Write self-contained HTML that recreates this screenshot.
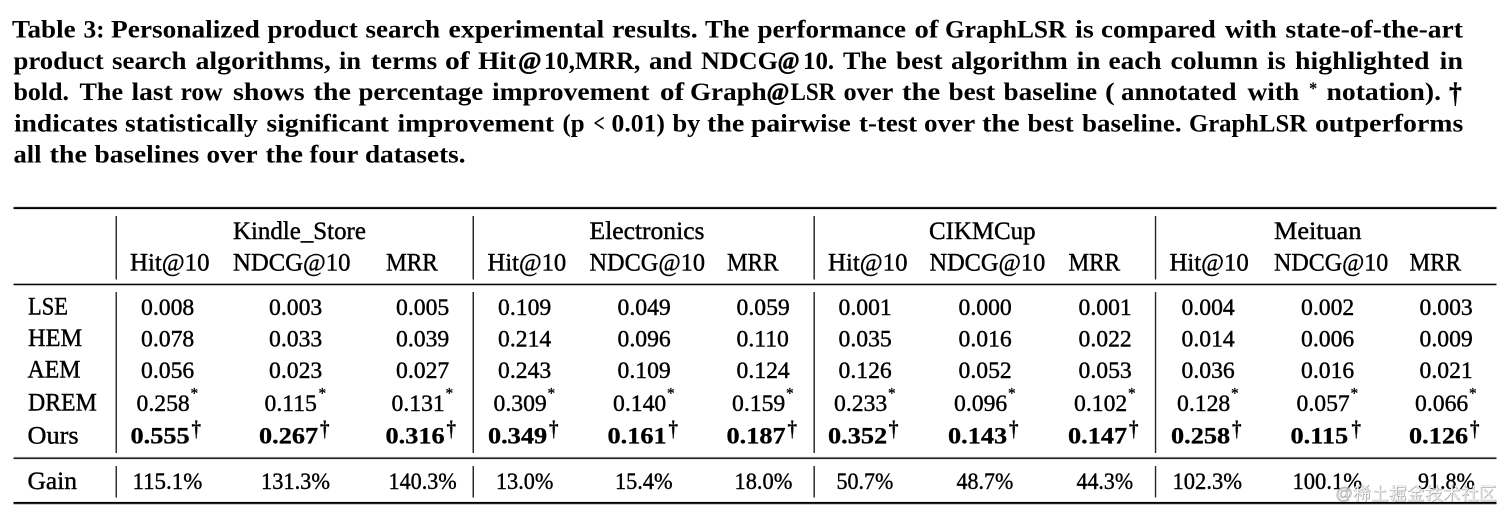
<!DOCTYPE html>
<html lang="en"><head><meta charset="utf-8"><title>Table 3</title>
<style>
html,body{margin:0;padding:0;background:#fff}
body{width:1512px;height:520px;position:relative;overflow:hidden}
#z{position:absolute;left:0;top:0;width:3024px;height:1040px;transform-origin:0 0;transform:scale(.5);will-change:transform;font-family:"Liberation Serif",serif;color:#000}
.w{position:absolute;white-space:pre;line-height:1;transform-origin:0 0}
.b{font-weight:bold}
.r{position:absolute}
</style></head><body><div id="z">
<div class="r" style="left:27px;top:412px;width:2966px;height:2px;background:#e4e4e4"></div><div class="r" style="left:27px;top:414px;width:2966px;height:2px;background:#1c1c1c"></div><div class="r" style="left:27px;top:416px;width:2966px;height:2px;background:#000"></div><div class="r" style="left:27px;top:418px;width:2966px;height:2px;background:#e6e6e6"></div><div class="r" style="left:27px;top:566px;width:2966px;height:2px;background:#b0b0b0"></div><div class="r" style="left:27px;top:568px;width:2966px;height:2px;background:#060606"></div><div class="r" style="left:27px;top:570px;width:2966px;height:2px;background:#c0c0c0"></div><div class="r" style="left:27px;top:912px;width:2966px;height:2px;background:#f4f4f4"></div><div class="r" style="left:27px;top:914px;width:2966px;height:2px;background:#777"></div><div class="r" style="left:27px;top:916px;width:2966px;height:2px;background:#222"></div><div class="r" style="left:27px;top:918px;width:2966px;height:2px;background:#e8e8e8"></div><div class="r" style="left:27px;top:1002px;width:2966px;height:2px;background:#eee"></div><div class="r" style="left:27px;top:1004px;width:2966px;height:2px;background:#000"></div><div class="r" style="left:27px;top:1006px;width:2966px;height:2px;background:#222"></div><div class="r" style="left:27px;top:1008px;width:2966px;height:2px;background:#ccc"></div><div class="r" style="left:230px;top:432px;width:2px;height:126.8px;background:#999"></div><div class="r" style="left:230px;top:584px;width:2px;height:322px;background:#999"></div><div class="r" style="left:230px;top:932px;width:2px;height:63.2px;background:#999"></div><div class="r" style="left:232px;top:432px;width:2px;height:126.8px;background:#333"></div><div class="r" style="left:232px;top:584px;width:2px;height:322px;background:#333"></div><div class="r" style="left:232px;top:932px;width:2px;height:63.2px;background:#333"></div><div class="r" style="left:944px;top:432px;width:2px;height:126.8px;background:#999"></div><div class="r" style="left:944px;top:584px;width:2px;height:322px;background:#999"></div><div class="r" style="left:944px;top:932px;width:2px;height:63.2px;background:#999"></div><div class="r" style="left:946px;top:432px;width:2px;height:126.8px;background:#282828"></div><div class="r" style="left:946px;top:584px;width:2px;height:322px;background:#282828"></div><div class="r" style="left:946px;top:932px;width:2px;height:63.2px;background:#282828"></div><div class="r" style="left:1626px;top:432px;width:2px;height:126.8px;background:#888"></div><div class="r" style="left:1626px;top:584px;width:2px;height:322px;background:#888"></div><div class="r" style="left:1626px;top:932px;width:2px;height:63.2px;background:#888"></div><div class="r" style="left:1628px;top:432px;width:2px;height:126.8px;background:#3a3a3a"></div><div class="r" style="left:1628px;top:584px;width:2px;height:322px;background:#3a3a3a"></div><div class="r" style="left:1628px;top:932px;width:2px;height:63.2px;background:#3a3a3a"></div><div class="r" style="left:2308px;top:432px;width:2px;height:126.8px;background:#ddd"></div><div class="r" style="left:2308px;top:584px;width:2px;height:322px;background:#ddd"></div><div class="r" style="left:2308px;top:932px;width:2px;height:63.2px;background:#ddd"></div><div class="r" style="left:2310px;top:432px;width:2px;height:126.8px;background:#262626"></div><div class="r" style="left:2310px;top:584px;width:2px;height:322px;background:#262626"></div><div class="r" style="left:2310px;top:932px;width:2px;height:63.2px;background:#262626"></div><div class="r" style="left:2312px;top:432px;width:2px;height:126.8px;background:#ccc"></div><div class="r" style="left:2312px;top:584px;width:2px;height:322px;background:#ccc"></div><div class="r" style="left:2312px;top:932px;width:2px;height:63.2px;background:#ccc"></div>
<span class="w b" style="left:24.4px;top:33.2px;font-size:50px;transform:scaleX(1.0811)">Table</span><span class="w b" style="left:167.4px;top:33.2px;font-size:50px;transform:scaleX(1.0132)">3:</span><span class="w b" style="left:221.7px;top:33.2px;font-size:50px;transform:scaleX(1.0937)">Personalized</span><span class="w b" style="left:535.1px;top:33.2px;font-size:50px;transform:scaleX(1.0716)">product</span><span class="w b" style="left:731.1px;top:33.2px;font-size:50px;transform:scaleX(1.0816)">search</span><span class="w b" style="left:897.1px;top:33.2px;font-size:50px;transform:scaleX(1.1105)">experimental</span><span class="w b" style="left:1223.5px;top:33.2px;font-size:50px;transform:scaleX(1.1194)">results.</span><span class="w b" style="left:1410.2px;top:33.2px;font-size:50px;transform:scaleX(1.0630)">The</span><span class="w b" style="left:1515.3px;top:33.2px;font-size:50px;transform:scaleX(1.0806)">performance</span><span class="w b" style="left:1829.2px;top:33.2px;font-size:50px;transform:scaleX(1.1460)">of</span><span class="w b" style="left:1890px;top:33.2px;font-size:50px;transform:scaleX(1.0156)">GraphLSR</span><span class="w b" style="left:2149.7px;top:33.2px;font-size:50px;transform:scaleX(1.1272)">is</span><span class="w b" style="left:2202.1px;top:33.2px;font-size:50px;transform:scaleX(1.0771)">compared</span><span class="w b" style="left:2449.8px;top:33.2px;font-size:50px;transform:scaleX(1.0949)">with</span><span class="w b" style="left:2570.8px;top:33.2px;font-size:50px;transform:scaleX(1.1019)">state-of-the-art</span><span class="w b" style="left:27.3px;top:95.8px;font-size:50px;transform:scaleX(1.0698)">product</span><span class="w b" style="left:224.3px;top:95.8px;font-size:50px;transform:scaleX(1.0794)">search</span><span class="w b" style="left:390.7px;top:95.8px;font-size:50px;transform:scaleX(1.1134)">algorithms,</span><span class="w b" style="left:677.8px;top:95.8px;font-size:50px;transform:scaleX(1.0529)">in</span><span class="w b" style="left:741.6px;top:95.8px;font-size:50px;transform:scaleX(1.0826)">terms</span><span class="w b" style="left:890.1px;top:95.8px;font-size:50px;transform:scaleX(1.1833)">of</span><span class="w b" style="left:955.7px;top:95.8px;font-size:50px;transform:scaleX(1.0976)">Hit</span><span class="w b" style="left:1035.5px;top:95.8px;font-size:50px;transform:scaleX(1.0134);-webkit-text-stroke:1px #000">@</span><span class="w b" style="left:1088.4px;top:95.8px;font-size:50px;transform:scaleX(0.9908)">10,MRR,</span><span class="w b" style="left:1298.2px;top:95.8px;font-size:50px;transform:scaleX(1.0721)">and</span><span class="w b" style="left:1401.6px;top:95.8px;font-size:50px;transform:scaleX(1.0445)">NDCG</span><span class="w b" style="left:1555.4px;top:95.8px;font-size:50px;transform:scaleX(0.9565);-webkit-text-stroke:1px #000">@</span><span class="w b" style="left:1605.8px;top:95.8px;font-size:50px;transform:scaleX(0.9956)">10.</span><span class="w b" style="left:1686.2px;top:95.8px;font-size:50px;transform:scaleX(1.0507)">The</span><span class="w b" style="left:1791.8px;top:95.8px;font-size:50px;transform:scaleX(1.0847)">best</span><span class="w b" style="left:1902.2px;top:95.8px;font-size:50px;transform:scaleX(1.1071)">algorithm</span><span class="w b" style="left:2152.7px;top:95.8px;font-size:50px;transform:scaleX(1.1532)">in</span><span class="w b" style="left:2217.1px;top:95.8px;font-size:50px;transform:scaleX(1.0915)">each</span><span class="w b" style="left:2340.6px;top:95.8px;font-size:50px;transform:scaleX(1.1072)">column</span><span class="w b" style="left:2533.7px;top:95.8px;font-size:50px;transform:scaleX(1.1272)">is</span><span class="w b" style="left:2589.6px;top:95.8px;font-size:50px;transform:scaleX(1.1126)">highlighted</span><span class="w b" style="left:2879.2px;top:95.8px;font-size:50px;transform:scaleX(1.1281)">in</span><span class="w b" style="left:27.3px;top:158.2px;font-size:50px;transform:scaleX(1.0376)">bold.</span><span class="w b" style="left:159.2px;top:158.2px;font-size:50px;transform:scaleX(1.0445)">The</span><span class="w b" style="left:262.9px;top:158.2px;font-size:50px;transform:scaleX(1.0995)">last</span><span class="w b" style="left:361.1px;top:158.2px;font-size:50px;transform:scaleX(1.0231)">row</span><span class="w b" style="left:465.7px;top:158.2px;font-size:50px;transform:scaleX(1.1215)">shows</span><span class="w b" style="left:626.6px;top:158.2px;font-size:50px;transform:scaleX(1.1225)">the</span><span class="w b" style="left:716.8px;top:158.2px;font-size:50px;transform:scaleX(1.0737)">percentage</span><span class="w b" style="left:983.8px;top:158.2px;font-size:50px;transform:scaleX(1.1046)">improvement</span><span class="w b" style="left:1320.2px;top:158.2px;font-size:50px;transform:scaleX(1.1584)">of</span><span class="w b" style="left:1379.9px;top:158.2px;font-size:50px;transform:scaleX(1.0829)">Graph</span><span class="w b" style="left:1532.9px;top:158.2px;font-size:50px;transform:scaleX(0.9850);-webkit-text-stroke:1px #000">@</span><span class="w b" style="left:1580.6px;top:158.2px;font-size:50px;transform:scaleX(0.9224)">LSR</span><span class="w b" style="left:1686.5px;top:158.2px;font-size:50px;transform:scaleX(1.0550)">over</span><span class="w b" style="left:1804.1px;top:158.2px;font-size:50px;transform:scaleX(1.1457)">the</span><span class="w b" style="left:1896.8px;top:158.2px;font-size:50px;transform:scaleX(1.0847)">best</span><span class="w b" style="left:2006.8px;top:158.2px;font-size:50px;transform:scaleX(1.0867)">baseline</span><span class="w b" style="left:2209.9px;top:158.2px;font-size:50px;transform:scaleX(1.1755)">(</span><span class="w b" style="left:2242.2px;top:158.2px;font-size:50px;transform:scaleX(1.0798)">annotated</span><span class="w b" style="left:2494.8px;top:158.2px;font-size:50px;transform:scaleX(1.0949)">with</span><span class="w b" style="left:2652.5px;top:158.2px;font-size:50px;transform:scaleX(1.1064)">notation).</span><span class="w b" style="left:27.8px;top:220.6px;font-size:50px;transform:scaleX(1.0990)">indicates</span><span class="w b" style="left:249.8px;top:220.6px;font-size:50px;transform:scaleX(1.0993)">statistically</span><span class="w b" style="left:533.3px;top:220.6px;font-size:50px;transform:scaleX(1.1005)">significant</span><span class="w b" style="left:794.8px;top:220.6px;font-size:50px;transform:scaleX(1.0976)">improvement</span><span class="w b" style="left:1125.3px;top:220.6px;font-size:50px;transform:scaleX(0.9936)">(p</span><span class="w b" style="left:1187px;top:220.6px;font-size:50px;transform:scaleX(0.7966)">&lt;</span><span class="w b" style="left:1222.9px;top:220.6px;font-size:50px;transform:scaleX(1.0260)">0.01)</span><span class="w b" style="left:1344.9px;top:220.6px;font-size:50px;transform:scaleX(1.0539)">by</span><span class="w b" style="left:1413.5px;top:220.6px;font-size:50px;transform:scaleX(1.1209)">the</span><span class="w b" style="left:1502.1px;top:220.6px;font-size:50px;transform:scaleX(1.1047)">pairwise</span><span class="w b" style="left:1718.1px;top:220.6px;font-size:50px;transform:scaleX(1.0737)">t-test</span><span class="w b" style="left:1847.8px;top:220.6px;font-size:50px;transform:scaleX(1.0835)">over</span><span class="w b" style="left:1964.1px;top:220.6px;font-size:50px;transform:scaleX(1.1302)">the</span><span class="w b" style="left:2055.3px;top:220.6px;font-size:50px;transform:scaleX(1.0730)">best</span><span class="w b" style="left:2164.3px;top:220.6px;font-size:50px;transform:scaleX(1.0779)">baseline.</span><span class="w b" style="left:2377.5px;top:220.6px;font-size:50px;transform:scaleX(0.9881)">GraphLSR</span><span class="w b" style="left:2630.3px;top:220.6px;font-size:50px;transform:scaleX(1.1124)">outperforms</span><span class="w b" style="left:27.3px;top:283px;font-size:50px;transform:scaleX(1.0625)">all</span><span class="w b" style="left:99.1px;top:283px;font-size:50px;transform:scaleX(1.1225)">the</span><span class="w b" style="left:189.3px;top:283px;font-size:50px;transform:scaleX(1.0935)">baselines</span><span class="w b" style="left:412.8px;top:283px;font-size:50px;transform:scaleX(1.0835)">over</span><span class="w b" style="left:530.6px;top:283px;font-size:50px;transform:scaleX(1.1225)">the</span><span class="w b" style="left:618.6px;top:283px;font-size:50px;transform:scaleX(1.0638)">four</span><span class="w b" style="left:730.3px;top:283px;font-size:50px;transform:scaleX(1.0891)">datasets.</span><span class="w" style="left:466.4px;top:435.5px;font-size:50px;transform:scaleX(0.9970);-webkit-text-stroke:0.8px #000">Kindle_Store</span><span class="w" style="left:1178.9px;top:435.5px;font-size:50px;transform:scaleX(1.0225);-webkit-text-stroke:0.8px #000">Electronics</span><span class="w" style="left:1858.3px;top:435.5px;font-size:50px;transform:scaleX(0.9964);-webkit-text-stroke:0.8px #000">CIKMCup</span><span class="w" style="left:2547.9px;top:435.5px;font-size:50px;transform:scaleX(1.0495);-webkit-text-stroke:0.8px #000">Meituan</span><span class="w" style="left:259.9px;top:499px;font-size:50px;transform:scaleX(0.9940);-webkit-text-stroke:0.8px #000">Hit@10</span><span class="w" style="left:466.4px;top:499px;font-size:50px;transform:scaleX(0.9887);-webkit-text-stroke:0.8px #000">NDCG@10</span><span class="w" style="left:771.5px;top:499px;font-size:50px;transform:scaleX(0.9332);-webkit-text-stroke:0.8px #000">MRR</span><span class="w" style="left:975px;top:499px;font-size:50px;transform:scaleX(0.9845);-webkit-text-stroke:0.8px #000">Hit@10</span><span class="w" style="left:1179px;top:499px;font-size:50px;transform:scaleX(0.9717);-webkit-text-stroke:0.8px #000">NDCG@10</span><span class="w" style="left:1454px;top:499px;font-size:50px;transform:scaleX(0.9287);-webkit-text-stroke:0.8px #000">MRR</span><span class="w" style="left:1656.4px;top:499px;font-size:50px;transform:scaleX(0.9940);-webkit-text-stroke:0.8px #000">Hit@10</span><span class="w" style="left:1859px;top:499px;font-size:50px;transform:scaleX(0.9738);-webkit-text-stroke:0.8px #000">NDCG@10</span><span class="w" style="left:2136.5px;top:499px;font-size:50px;transform:scaleX(0.9287);-webkit-text-stroke:0.8px #000">MRR</span><span class="w" style="left:2338.9px;top:499px;font-size:50px;transform:scaleX(0.9908);-webkit-text-stroke:0.8px #000">Hit@10</span><span class="w" style="left:2548px;top:499px;font-size:50px;transform:scaleX(0.9611);-webkit-text-stroke:0.8px #000">NDCG@10</span><span class="w" style="left:2818.5px;top:499px;font-size:50px;transform:scaleX(0.9287);-webkit-text-stroke:0.8px #000">MRR</span><span class="w" style="left:56px;top:587px;font-size:50px;transform:scaleX(0.8989);-webkit-text-stroke:0.8px #000">LSE</span><span class="w" style="left:56px;top:650px;font-size:50px;transform:scaleX(0.9763);-webkit-text-stroke:0.8px #000">HEM</span><span class="w" style="left:54.9px;top:713px;font-size:50px;transform:scaleX(0.9540);-webkit-text-stroke:0.8px #000">AEM</span><span class="w" style="left:56px;top:778.5px;font-size:50px;transform:scaleX(0.9520);-webkit-text-stroke:0.8px #000">DREM</span><span class="w" style="left:55.3px;top:844.5px;font-size:50px;transform:scaleX(1.0512);-webkit-text-stroke:0.8px #000">Ours</span><span class="w" style="left:55.3px;top:935.5px;font-size:50px;transform:scaleX(1.0184);-webkit-text-stroke:0.8px #000">Gain</span><span class="w" style="left:281.6px;top:590.8px;font-size:46.8px;transform:scaleX(1.0115);-webkit-text-stroke:0.8px #000">0.008</span><span class="w" style="left:538.1px;top:590.8px;font-size:46.8px;transform:scaleX(1.0115);-webkit-text-stroke:0.8px #000">0.003</span><span class="w" style="left:791.6px;top:590.8px;font-size:46.8px;transform:scaleX(1.0115);-webkit-text-stroke:0.8px #000">0.005</span><span class="w" style="left:996.1px;top:590.8px;font-size:46.8px;transform:scaleX(1.0115);-webkit-text-stroke:0.8px #000">0.109</span><span class="w" style="left:1235.1px;top:590.8px;font-size:46.8px;transform:scaleX(1.0115);-webkit-text-stroke:0.8px #000">0.049</span><span class="w" style="left:1473.1px;top:590.8px;font-size:46.8px;transform:scaleX(1.0115);-webkit-text-stroke:0.8px #000">0.059</span><span class="w" style="left:1676.6px;top:590.8px;font-size:46.8px;transform:scaleX(1.0115);-webkit-text-stroke:0.8px #000">0.001</span><span class="w" style="left:1916.6px;top:590.8px;font-size:46.8px;transform:scaleX(1.0115);-webkit-text-stroke:0.8px #000">0.000</span><span class="w" style="left:2156.6px;top:590.8px;font-size:46.8px;transform:scaleX(1.0115);-webkit-text-stroke:0.8px #000">0.001</span><span class="w" style="left:2362.6px;top:590.8px;font-size:46.8px;transform:scaleX(1.0115);-webkit-text-stroke:0.8px #000">0.004</span><span class="w" style="left:2601.6px;top:590.8px;font-size:46.8px;transform:scaleX(1.0115);-webkit-text-stroke:0.8px #000">0.002</span><span class="w" style="left:2838.6px;top:590.8px;font-size:46.8px;transform:scaleX(1.0115);-webkit-text-stroke:0.8px #000">0.003</span><span class="w" style="left:281.6px;top:653.8px;font-size:46.8px;transform:scaleX(1.0115);-webkit-text-stroke:0.8px #000">0.078</span><span class="w" style="left:538.1px;top:653.8px;font-size:46.8px;transform:scaleX(1.0115);-webkit-text-stroke:0.8px #000">0.033</span><span class="w" style="left:791.6px;top:653.8px;font-size:46.8px;transform:scaleX(1.0115);-webkit-text-stroke:0.8px #000">0.039</span><span class="w" style="left:996.1px;top:653.8px;font-size:46.8px;transform:scaleX(1.0115);-webkit-text-stroke:0.8px #000">0.214</span><span class="w" style="left:1235.1px;top:653.8px;font-size:46.8px;transform:scaleX(1.0115);-webkit-text-stroke:0.8px #000">0.096</span><span class="w" style="left:1473.1px;top:653.8px;font-size:46.8px;transform:scaleX(1.0115);-webkit-text-stroke:0.8px #000">0.110</span><span class="w" style="left:1676.6px;top:653.8px;font-size:46.8px;transform:scaleX(1.0115);-webkit-text-stroke:0.8px #000">0.035</span><span class="w" style="left:1916.6px;top:653.8px;font-size:46.8px;transform:scaleX(1.0115);-webkit-text-stroke:0.8px #000">0.016</span><span class="w" style="left:2156.6px;top:653.8px;font-size:46.8px;transform:scaleX(1.0115);-webkit-text-stroke:0.8px #000">0.022</span><span class="w" style="left:2362.6px;top:653.8px;font-size:46.8px;transform:scaleX(1.0115);-webkit-text-stroke:0.8px #000">0.014</span><span class="w" style="left:2601.6px;top:653.8px;font-size:46.8px;transform:scaleX(1.0115);-webkit-text-stroke:0.8px #000">0.006</span><span class="w" style="left:2838.6px;top:653.8px;font-size:46.8px;transform:scaleX(1.0115);-webkit-text-stroke:0.8px #000">0.009</span><span class="w" style="left:281.6px;top:716.8px;font-size:46.8px;transform:scaleX(1.0115);-webkit-text-stroke:0.8px #000">0.056</span><span class="w" style="left:538.1px;top:716.8px;font-size:46.8px;transform:scaleX(1.0115);-webkit-text-stroke:0.8px #000">0.023</span><span class="w" style="left:791.6px;top:716.8px;font-size:46.8px;transform:scaleX(1.0115);-webkit-text-stroke:0.8px #000">0.027</span><span class="w" style="left:996.1px;top:716.8px;font-size:46.8px;transform:scaleX(1.0115);-webkit-text-stroke:0.8px #000">0.243</span><span class="w" style="left:1235.1px;top:716.8px;font-size:46.8px;transform:scaleX(1.0115);-webkit-text-stroke:0.8px #000">0.109</span><span class="w" style="left:1473.1px;top:716.8px;font-size:46.8px;transform:scaleX(1.0115);-webkit-text-stroke:0.8px #000">0.124</span><span class="w" style="left:1676.6px;top:716.8px;font-size:46.8px;transform:scaleX(1.0115);-webkit-text-stroke:0.8px #000">0.126</span><span class="w" style="left:1916.6px;top:716.8px;font-size:46.8px;transform:scaleX(1.0115);-webkit-text-stroke:0.8px #000">0.052</span><span class="w" style="left:2156.6px;top:716.8px;font-size:46.8px;transform:scaleX(1.0115);-webkit-text-stroke:0.8px #000">0.053</span><span class="w" style="left:2362.6px;top:716.8px;font-size:46.8px;transform:scaleX(1.0115);-webkit-text-stroke:0.8px #000">0.036</span><span class="w" style="left:2601.6px;top:716.8px;font-size:46.8px;transform:scaleX(1.0115);-webkit-text-stroke:0.8px #000">0.016</span><span class="w" style="left:2838.6px;top:716.8px;font-size:46.8px;transform:scaleX(1.0115);-webkit-text-stroke:0.8px #000">0.021</span><span class="w" style="left:272.6px;top:782.6px;font-size:46.8px;transform:scaleX(1.0115);-webkit-text-stroke:0.8px #000">0.258</span><span class="w" style="left:529.1px;top:782.6px;font-size:46.8px;transform:scaleX(1.0115);-webkit-text-stroke:0.8px #000">0.115</span><span class="w" style="left:782.6px;top:782.6px;font-size:46.8px;transform:scaleX(1.0115);-webkit-text-stroke:0.8px #000">0.131</span><span class="w" style="left:987.1px;top:782.6px;font-size:46.8px;transform:scaleX(1.0115);-webkit-text-stroke:0.8px #000">0.309</span><span class="w" style="left:1226.1px;top:782.6px;font-size:46.8px;transform:scaleX(1.0115);-webkit-text-stroke:0.8px #000">0.140</span><span class="w" style="left:1464.1px;top:782.6px;font-size:46.8px;transform:scaleX(1.0115);-webkit-text-stroke:0.8px #000">0.159</span><span class="w" style="left:1667.6px;top:782.6px;font-size:46.8px;transform:scaleX(1.0115);-webkit-text-stroke:0.8px #000">0.233</span><span class="w" style="left:1907.6px;top:782.6px;font-size:46.8px;transform:scaleX(1.0115);-webkit-text-stroke:0.8px #000">0.096</span><span class="w" style="left:2147.6px;top:782.6px;font-size:46.8px;transform:scaleX(1.0115);-webkit-text-stroke:0.8px #000">0.102</span><span class="w" style="left:2353.6px;top:782.6px;font-size:46.8px;transform:scaleX(1.0115);-webkit-text-stroke:0.8px #000">0.128</span><span class="w" style="left:2592.6px;top:782.6px;font-size:46.8px;transform:scaleX(1.0115);-webkit-text-stroke:0.8px #000">0.057</span><span class="w" style="left:2829.6px;top:782.6px;font-size:46.8px;transform:scaleX(1.0115);-webkit-text-stroke:0.8px #000">0.066</span><span class="w b" style="left:261.3px;top:848.2px;font-size:46.8px;transform:scaleX(1.1224);-webkit-text-stroke:0.6px #000">0.555</span><span class="w b" style="left:517.8px;top:848.2px;font-size:46.8px;transform:scaleX(1.1224);-webkit-text-stroke:0.6px #000">0.267</span><span class="w b" style="left:771.3px;top:848.2px;font-size:46.8px;transform:scaleX(1.1224);-webkit-text-stroke:0.6px #000">0.316</span><span class="w b" style="left:975.8px;top:848.2px;font-size:46.8px;transform:scaleX(1.1224);-webkit-text-stroke:0.6px #000">0.349</span><span class="w b" style="left:1214.8px;top:848.2px;font-size:46.8px;transform:scaleX(1.1224);-webkit-text-stroke:0.6px #000">0.161</span><span class="w b" style="left:1452.8px;top:848.2px;font-size:46.8px;transform:scaleX(1.1224);-webkit-text-stroke:0.6px #000">0.187</span><span class="w b" style="left:1656.3px;top:848.2px;font-size:46.8px;transform:scaleX(1.1224);-webkit-text-stroke:0.6px #000">0.352</span><span class="w b" style="left:1896.3px;top:848.2px;font-size:46.8px;transform:scaleX(1.1224);-webkit-text-stroke:0.6px #000">0.143</span><span class="w b" style="left:2136.3px;top:848.2px;font-size:46.8px;transform:scaleX(1.1224);-webkit-text-stroke:0.6px #000">0.147</span><span class="w b" style="left:2342.3px;top:848.2px;font-size:46.8px;transform:scaleX(1.1224);-webkit-text-stroke:0.6px #000">0.258</span><span class="w b" style="left:2581.3px;top:848.2px;font-size:46.8px;transform:scaleX(1.1224);-webkit-text-stroke:0.6px #000">0.115</span><span class="w b" style="left:2818.3px;top:848.2px;font-size:46.8px;transform:scaleX(1.1224);-webkit-text-stroke:0.6px #000">0.126</span><span class="w" style="left:264.9px;top:938.5px;font-size:46.8px;transform:scaleX(0.9792);-webkit-text-stroke:0.8px #000">115.1%</span><span class="w" style="left:521.5px;top:938.5px;font-size:46.8px;transform:scaleX(0.9565);-webkit-text-stroke:0.8px #000">131.3%</span><span class="w" style="left:776.5px;top:938.5px;font-size:46.8px;transform:scaleX(0.9457);-webkit-text-stroke:0.8px #000">140.3%</span><span class="w" style="left:991.5px;top:938.5px;font-size:46.8px;transform:scaleX(0.9489);-webkit-text-stroke:0.8px #000">13.0%</span><span class="w" style="left:1230px;top:938.5px;font-size:46.8px;transform:scaleX(0.9532);-webkit-text-stroke:0.8px #000">15.4%</span><span class="w" style="left:1468.5px;top:938.5px;font-size:46.8px;transform:scaleX(0.9576);-webkit-text-stroke:0.8px #000">18.0%</span><span class="w" style="left:1672.9px;top:938.5px;font-size:46.8px;transform:scaleX(0.9417);-webkit-text-stroke:0.8px #000">50.7%</span><span class="w" style="left:1913.1px;top:938.5px;font-size:46.8px;transform:scaleX(0.9399);-webkit-text-stroke:0.8px #000">48.7%</span><span class="w" style="left:2153.1px;top:938.5px;font-size:46.8px;transform:scaleX(0.9358);-webkit-text-stroke:0.8px #000">44.3%</span><span class="w" style="left:2345.4px;top:938.5px;font-size:46.8px;transform:scaleX(0.9637);-webkit-text-stroke:0.8px #000">102.3%</span><span class="w" style="left:2585.4px;top:938.5px;font-size:46.8px;transform:scaleX(0.9637);-webkit-text-stroke:0.8px #000">100.1%</span><span class="w" style="left:2835.5px;top:938.5px;font-size:46.8px;transform:scaleX(0.9409);-webkit-text-stroke:0.8px #000">91.8%</span><span class="w b" style="left:2617.5px;top:159.8px;font-size:35.7px;transform:scaleX(0.9275)">*</span><span class="w b" style="left:2898.3px;top:158.3px;font-size:56.2px;transform:scaleX(0.9060);-webkit-text-stroke:0.8px #000">†</span><span class="w" style="left:380.9px;top:771.6px;font-size:30.9px;transform:scaleX(0.9940);-webkit-text-stroke:0.6px #000">*</span><span class="w b" style="left:383.3px;top:836px;font-size:43.5px;transform:scaleX(0.8729);-webkit-text-stroke:0.5px #000">†</span><span class="w" style="left:637.4px;top:771.6px;font-size:30.9px;transform:scaleX(0.9940);-webkit-text-stroke:0.6px #000">*</span><span class="w b" style="left:639.8px;top:836px;font-size:43.5px;transform:scaleX(0.8729);-webkit-text-stroke:0.5px #000">†</span><span class="w" style="left:890.9px;top:771.6px;font-size:30.9px;transform:scaleX(0.9940);-webkit-text-stroke:0.6px #000">*</span><span class="w b" style="left:893.3px;top:836px;font-size:43.5px;transform:scaleX(0.8729);-webkit-text-stroke:0.5px #000">†</span><span class="w" style="left:1095.4px;top:771.6px;font-size:30.9px;transform:scaleX(0.9940);-webkit-text-stroke:0.6px #000">*</span><span class="w b" style="left:1097.8px;top:836px;font-size:43.5px;transform:scaleX(0.8729);-webkit-text-stroke:0.5px #000">†</span><span class="w" style="left:1334.4px;top:771.6px;font-size:30.9px;transform:scaleX(0.9940);-webkit-text-stroke:0.6px #000">*</span><span class="w b" style="left:1336.8px;top:836px;font-size:43.5px;transform:scaleX(0.8729);-webkit-text-stroke:0.5px #000">†</span><span class="w" style="left:1572.4px;top:771.6px;font-size:30.9px;transform:scaleX(0.9940);-webkit-text-stroke:0.6px #000">*</span><span class="w b" style="left:1574.8px;top:836px;font-size:43.5px;transform:scaleX(0.8729);-webkit-text-stroke:0.5px #000">†</span><span class="w" style="left:1775.9px;top:771.6px;font-size:30.9px;transform:scaleX(0.9940);-webkit-text-stroke:0.6px #000">*</span><span class="w b" style="left:1778.3px;top:836px;font-size:43.5px;transform:scaleX(0.8729);-webkit-text-stroke:0.5px #000">†</span><span class="w" style="left:2015.9px;top:771.6px;font-size:30.9px;transform:scaleX(0.9940);-webkit-text-stroke:0.6px #000">*</span><span class="w b" style="left:2018.3px;top:836px;font-size:43.5px;transform:scaleX(0.8729);-webkit-text-stroke:0.5px #000">†</span><span class="w" style="left:2255.9px;top:771.6px;font-size:30.9px;transform:scaleX(0.9940);-webkit-text-stroke:0.6px #000">*</span><span class="w b" style="left:2258.3px;top:836px;font-size:43.5px;transform:scaleX(0.8729);-webkit-text-stroke:0.5px #000">†</span><span class="w" style="left:2461.9px;top:771.6px;font-size:30.9px;transform:scaleX(0.9940);-webkit-text-stroke:0.6px #000">*</span><span class="w b" style="left:2464.3px;top:836px;font-size:43.5px;transform:scaleX(0.8729);-webkit-text-stroke:0.5px #000">†</span><span class="w" style="left:2700.9px;top:771.6px;font-size:30.9px;transform:scaleX(0.9940);-webkit-text-stroke:0.6px #000">*</span><span class="w b" style="left:2703.3px;top:836px;font-size:43.5px;transform:scaleX(0.8729);-webkit-text-stroke:0.5px #000">†</span><span class="w" style="left:2937.9px;top:771.6px;font-size:30.9px;transform:scaleX(0.9940);-webkit-text-stroke:0.6px #000">*</span><span class="w b" style="left:2940.3px;top:836px;font-size:43.5px;transform:scaleX(0.8729);-webkit-text-stroke:0.5px #000">†</span>
<svg class="wm" aria-label="watermark" style="position:absolute;left:2706px;top:968px" width="292" height="38" viewBox="0 0 146 19" fill="none" stroke-linecap="round" stroke-linejoin="round"><g stroke="#aaa" stroke-width="1.9" transform="translate(.35 .35)"><path transform="translate(0.8 0.9) scale(1.019)" d="M5.5 0.6L1.5 2M0.5 5H6.5M3.5 2V15.5M3.5 6L0.5 11M3.5 6L6.5 10M8 0.5L14 4.5M14 0.5L8 4.5M7 6H15.5M10.5 4.5L7 10M8.5 13.5V8.5H14.5V12.5L13.5 13M11.5 6V15.5"/><path transform="translate(18.75 0.9) scale(1.019)" d="M3 6H13M8 1V15M1 15H15"/><path transform="translate(36.7 0.9) scale(1.019)" d="M0.5 4.5H6M3.5 0.5V14.5L2 13.8M0.5 11L6 8.5M7 1.5H15V5H7M7 1.5V9Q7 13 5.8 15.5M11 6.5V15M8.5 7.5V10.5H13.5V7.5M7.8 11.8V15H14.6V11.8"/><path transform="translate(54.65 0.9) scale(1.019)" d="M8 0.5L1 6M8 0.5L15 6M4.5 6.5H11.5M3 10H13M8 6.5V15M4.3 11.5L5.3 14M11.7 11.5L10.7 14M1 15H15"/><path transform="translate(72.6 0.9) scale(1.019)" d="M0.5 4.5H6M3.5 0.5V14.5L2 13.8M0.5 11L6 8.5M7 4H15.5M11 0.5V7.5M7.5 7.5H14.5Q12 13 7 15.5M8.5 9Q11 13.5 15.5 15.5"/><path transform="translate(90.55 0.9) scale(1.019)" d="M1 5H15M8 0.5V15.5M8 5Q5 11 1.2 14M8 5Q11 11 14.8 14M11.5 1L13 3"/><path transform="translate(108.5 0.9) scale(1.019)" d="M3 0.5L4 2M0.5 4H6L1 10M3.5 7V15.5M4.5 8L6 9.5M8 6H15M11.5 1V15M7 15H16"/><path transform="translate(126.45 0.9) scale(1.019)" d="M15 1.5H1.5V15H15.5M5 4.5L12 12M12 4.5L5 12"/></g><g stroke="#fff" stroke-width="0.9"><path transform="translate(0.8 0.9) scale(1.019)" d="M5.5 0.6L1.5 2M0.5 5H6.5M3.5 2V15.5M3.5 6L0.5 11M3.5 6L6.5 10M8 0.5L14 4.5M14 0.5L8 4.5M7 6H15.5M10.5 4.5L7 10M8.5 13.5V8.5H14.5V12.5L13.5 13M11.5 6V15.5"/><path transform="translate(18.75 0.9) scale(1.019)" d="M3 6H13M8 1V15M1 15H15"/><path transform="translate(36.7 0.9) scale(1.019)" d="M0.5 4.5H6M3.5 0.5V14.5L2 13.8M0.5 11L6 8.5M7 1.5H15V5H7M7 1.5V9Q7 13 5.8 15.5M11 6.5V15M8.5 7.5V10.5H13.5V7.5M7.8 11.8V15H14.6V11.8"/><path transform="translate(54.65 0.9) scale(1.019)" d="M8 0.5L1 6M8 0.5L15 6M4.5 6.5H11.5M3 10H13M8 6.5V15M4.3 11.5L5.3 14M11.7 11.5L10.7 14M1 15H15"/><path transform="translate(72.6 0.9) scale(1.019)" d="M0.5 4.5H6M3.5 0.5V14.5L2 13.8M0.5 11L6 8.5M7 4H15.5M11 0.5V7.5M7.5 7.5H14.5Q12 13 7 15.5M8.5 9Q11 13.5 15.5 15.5"/><path transform="translate(90.55 0.9) scale(1.019)" d="M1 5H15M8 0.5V15.5M8 5Q5 11 1.2 14M8 5Q11 11 14.8 14M11.5 1L13 3"/><path transform="translate(108.5 0.9) scale(1.019)" d="M3 0.5L4 2M0.5 4H6L1 10M3.5 7V15.5M4.5 8L6 9.5M8 6H15M11.5 1V15M7 15H16"/><path transform="translate(126.45 0.9) scale(1.019)" d="M15 1.5H1.5V15H15.5M5 4.5L12 12M12 4.5L5 12"/></g></svg><span class="w" style="left:2671px;top:969px;font-family:'Liberation Sans',sans-serif;font-size:34px;color:#fff;-webkit-text-stroke:1.4px #aaa">@</span>
</div></body></html>
